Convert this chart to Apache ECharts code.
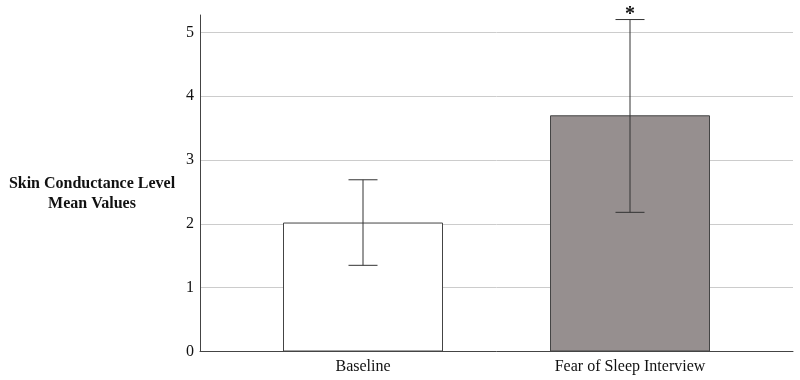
<!DOCTYPE html>
<html><head><meta charset="utf-8">
<script src="https://cdn.jsdelivr.net/npm/echarts@6/dist/echarts.min.js"></script>
<style>html,body{margin:0;padding:0;background:#fff}#c{width:800px;height:380px}</style>
</head><body><div id="c"></div>
<script>
const categories = ['Baseline', 'Fear of Sleep Interview'];
const meanValues = [2.02, 3.70];
const errLow = [1.35, 2.18];
const errHigh = [2.69, 5.20];
const annotations = ['', '*'];
const barColors = ['#ffffff', '#968f8f'];
const yTicks = [0, 1, 2, 3, 4, 5];

const chart = echarts.init(document.getElementById('c'));
const serif = '"Liberation Serif", "Times New Roman", serif';
const TOP = 32.3, BOTTOM = 28.5;

chart.setOption({
  animation: false,
  grid: [
    {left: 200, right: 7, top: 15, bottom: BOTTOM},
    {left: 200, right: 7, top: TOP, bottom: BOTTOM},
    {left: 229.5, right: 36.5, top: TOP, bottom: BOTTOM}
  ],
  xAxis: [
    {gridIndex: 0, type: 'value', min: 0, max: 1, axisLine: {show: true, onZero: false, lineStyle: {color: '#444', width: 1}}, axisTick: {show: false}, axisLabel: {show: false}, splitLine: {show: false}},
    {gridIndex: 1, type: 'value', min: 0, max: 1, show: false},
    {gridIndex: 2, type: 'category', data: categories, axisLine: {show: false}, axisTick: {show: false},
      axisLabel: {color: '#111', fontFamily: serif, fontSize: 16, margin: 7}}
  ],
  yAxis: [
    {gridIndex: 0, type: 'value', min: 0, max: 1, axisLine: {show: true, lineStyle: {color: '#444', width: 1}}, axisTick: {show: false}, axisLabel: {show: false}, splitLine: {show: false}},
    {gridIndex: 1, type: 'value', min: yTicks[0], max: yTicks[yTicks.length - 1], interval: 1,
      axisLine: {show: false}, axisTick: {show: false},
      axisLabel: {color: '#111', fontFamily: serif, fontSize: 16, margin: 6},
      splitLine: {show: true, lineStyle: {color: '#cccccc', width: 1}}},
    {gridIndex: 2, type: 'value', min: yTicks[0], max: yTicks[yTicks.length - 1], show: false}
  ],
  graphic: [{
    type: 'text', x: 92, y: 194,
    style: {text: 'Skin Conductance Level\nMean Values', fontFamily: serif, fontSize: 16, fontWeight: 'bold', fill: '#111', align: 'center', verticalAlign: 'middle', lineHeight: 20}
  }],
  series: [
    {type: 'bar', xAxisIndex: 2, yAxisIndex: 2, barWidth: 160,
      data: meanValues.map((v, i) => ({value: v, itemStyle: {color: barColors[i]}})),
      itemStyle: {borderColor: '#444', borderWidth: 1}, z: 2},
    {type: 'custom', xAxisIndex: 2, yAxisIndex: 2, clip: false, z: 3,
      data: categories.map((c, i) => [i, errLow[i], errHigh[i]]),
      renderItem: function (params, api) {
        const x = api.coord([api.value(0), 0])[0];
        const lo = api.coord([api.value(0), api.value(1)])[1];
        const hi = api.coord([api.value(0), api.value(2)])[1];
        const w = 14.5;
        const ls = {stroke: '#333', lineWidth: 1};
        const children = [
          {type: 'line', shape: {x1: x, y1: lo, x2: x, y2: hi}, style: ls},
          {type: 'line', shape: {x1: x - w, y1: lo, x2: x + w, y2: lo}, style: ls},
          {type: 'line', shape: {x1: x - w, y1: hi, x2: x + w, y2: hi}, style: ls}
        ];
        const ann = annotations[params.dataIndex];
        if (ann) children.push({type: 'text', x: x, y: hi + 5, style: {text: ann, fontFamily: serif, fontSize: 20, fontWeight: 'bold', fill: '#111', align: 'center', verticalAlign: 'bottom'}});
        return {type: 'group', children: children};
      }}
  ]
});
</script></body></html>
